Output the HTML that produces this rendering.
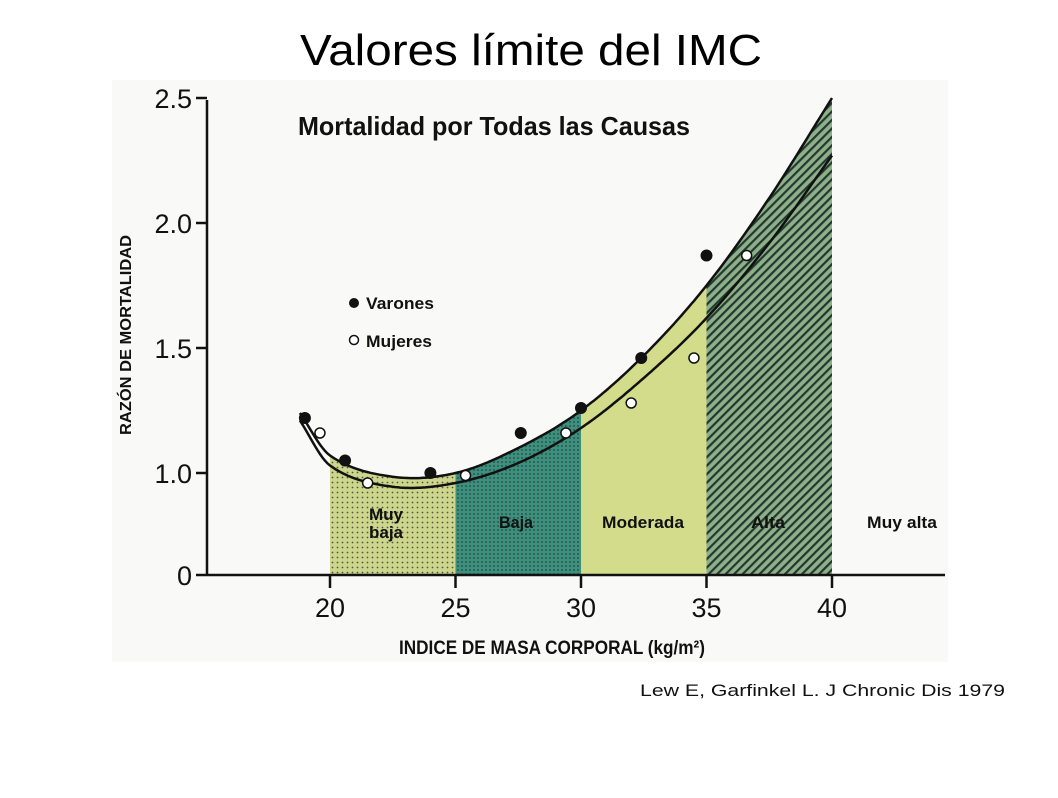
<!DOCTYPE html>
<html><head><meta charset="utf-8"><style>
body{margin:0;background:#fff;width:1058px;height:793px;overflow:hidden;font-family:"Liberation Sans",sans-serif}
</style></head><body>
<svg width="1058" height="793" xmlns="http://www.w3.org/2000/svg">
<defs>
<pattern id="dots1" width="5" height="5" patternUnits="userSpaceOnUse"><rect width="5" height="5" fill="#cdd68c"/><circle cx="2.5" cy="2.5" r="0.9" fill="#4a5a3a"/></pattern>
<pattern id="dots2" width="4" height="4" patternUnits="userSpaceOnUse"><rect width="4" height="4" fill="#3f8f7f"/><circle cx="2" cy="2" r="0.9" fill="#1d4a40"/></pattern>
<pattern id="hatch" width="6" height="6" patternUnits="userSpaceOnUse" patternTransform="rotate(45)"><rect width="6" height="6" fill="#8fae8a"/><rect width="2.2" height="6" fill="#1f3a2c"/></pattern>
</defs>
<rect x="112" y="80" width="836" height="582" fill="#f9f9f7"/>
<text x="531" y="65" text-anchor="middle" font-size="44" fill="#000" textLength="462" lengthAdjust="spacingAndGlyphs">Valores límite del IMC</text>
<text x="298" y="135" font-size="26" font-weight="bold" fill="#111" textLength="392" lengthAdjust="spacingAndGlyphs">Mortalidad por Todas las Causas</text>
<g id="zones"></g>
<g id="curves"></g>
<g id="axes" stroke="#111" stroke-width="2.5" fill="none"></g>
<g id="points"></g>
<g font-size="17" font-weight="bold" fill="#111">
<text x="386" y="520" text-anchor="middle" textLength="34" lengthAdjust="spacingAndGlyphs">Muy</text>
<text x="386" y="538" text-anchor="middle" textLength="34" lengthAdjust="spacingAndGlyphs">baja</text>
<text x="516" y="528" text-anchor="middle" textLength="34" lengthAdjust="spacingAndGlyphs">Baja</text>
<text x="643" y="528" text-anchor="middle" textLength="82" lengthAdjust="spacingAndGlyphs">Moderada</text>
<text x="768" y="528" text-anchor="middle" textLength="34" lengthAdjust="spacingAndGlyphs">Alta</text>
<text x="902" y="528" text-anchor="middle" textLength="70" lengthAdjust="spacingAndGlyphs">Muy alta</text>
</g>
<g font-size="17" font-weight="bold" fill="#111">
<circle cx="354" cy="303" r="5" fill="#111"/>
<text x="366" y="309" textLength="68" lengthAdjust="spacingAndGlyphs">Varones</text>
<circle cx="354" cy="340" r="4.5" fill="#fff" stroke="#111" stroke-width="1.5"/>
<text x="366" y="347" textLength="66" lengthAdjust="spacingAndGlyphs">Mujeres</text>
</g>
<text transform="translate(131,335) rotate(-90)" text-anchor="middle" font-size="16" font-weight="bold" fill="#111" textLength="200" lengthAdjust="spacingAndGlyphs">RAZÓN DE MORTALIDAD</text>
<text x="552" y="654" text-anchor="middle" font-size="19" font-weight="bold" fill="#111" textLength="306" lengthAdjust="spacingAndGlyphs">INDICE DE MASA CORPORAL (kg/m²)</text>
<text x="640" y="696" font-size="17" fill="#111" textLength="365" lengthAdjust="spacingAndGlyphs">Lew E, Garfinkel L. J Chronic Dis 1979</text>
</svg>
<script>
const xTicks=[20,25,30,35,40];
const yTicks=[1.0,1.5,2.0,2.5];
const yTickLabels=["1.0","1.5","2.0","2.5"];
const zoneBounds=[20,25,30,35,40];
const zoneNames=["muy-baja","baja","moderada","alta"];
const curveX=[18.8,20,22.5,25,27.5,30,32.5,35,37.5,40];
const menCurve=[1.24,1.07,0.985,1.0,1.1,1.25,1.47,1.75,2.1,2.5];
const womenCurve=[1.21,1.03,0.945,0.96,1.04,1.18,1.38,1.62,1.92,2.27];
const menX=[19,20.6,24,27.6,30,32.4,35];
const menY=[1.22,1.05,1.0,1.16,1.26,1.46,1.87];
const womenX=[19.6,21.5,25.4,29.4,32,34.5,36.6];
const womenY=[1.16,0.96,0.99,1.16,1.28,1.46,1.87];
const NS="http://www.w3.org/2000/svg";
const X=v=>330+(v-20)*25.1;
const Y=v=>473-(v-1)*250;
const BASE=575;
function mk(tag,attrs,parent){const e=document.createElementNS(NS,tag);for(const k in attrs)e.setAttribute(k,attrs[k]);parent.appendChild(e);return e;}
function interp(xs,ys,x){let i=0;while(i<xs.length-2&&x>xs[i+1])i++;
 const h=xs[i+1]-xs[i];
 const m=j=>{if(j<=0)return (ys[1]-ys[0])/(xs[1]-xs[0]);if(j>=ys.length-1)return (ys[j]-ys[j-1])/(xs[j]-xs[j-1]);return (ys[j+1]-ys[j-1])/(xs[j+1]-xs[j-1]);};
 const t=(x-xs[i])/h,t2=t*t,t3=t2*t;
 return (2*t3-3*t2+1)*ys[i]+(t3-2*t2+t)*h*m(i)+(-2*t3+3*t2)*ys[i+1]+(t3-t2)*h*m(i+1);}
const zones=document.getElementById('zones');
const fills=["url(#dots1)","url(#dots2)","#d3dc8b","url(#hatch)"];
for(let z=0;z<zoneBounds.length-1;z++){
 let d="M"+X(zoneBounds[z])+","+BASE;
 for(let x=zoneBounds[z];x<=zoneBounds[z+1]+1e-6;x+=0.1)d+=" L"+X(x).toFixed(1)+","+Y(interp(curveX,menCurve,x)).toFixed(1);
 d+=" L"+X(zoneBounds[z+1])+","+BASE+"Z";
 const p=mk('path',{d:d,fill:fills[z]},zones);
 
 
}
const curves=document.getElementById('curves');
[[menCurve,'men-curve'],[womenCurve,'women-curve']].forEach(([ys,n])=>{
 let d="";for(let x=curveX[0];x<=curveX[curveX.length-1]+1e-6;x+=0.1)d+=(d?" L":"M")+X(x).toFixed(1)+","+Y(interp(curveX,ys,x)).toFixed(1);
 const p=mk('path',{d:d,fill:'none',stroke:'#111','stroke-width':2.5},curves);
 
 
});
const axes=document.getElementById('axes');
const ya=mk('path',{d:"M207,100 V575"},axes);


const xa=mk('path',{d:"M207,575 H945"},axes);


const svg=document.querySelector('svg');
yTicks.forEach((v,i)=>{
 mk('path',{d:"M196,"+Y(v)+" H207"},axes);
 const t=mk('text',{x:192,y:Y(v)+10,'text-anchor':'end','font-size':27,fill:'#111',stroke:'none'},svg);
 t.textContent=yTickLabels[i];
 
 
});
mk('path',{d:"M196,575 H207"},axes);
const z0=mk('text',{x:192,y:585,'text-anchor':'end','font-size':27,fill:'#111'},svg);
z0.textContent="0";


xTicks.forEach(v=>{
 mk('path',{d:"M"+X(v)+",575 V588"},axes);
 const t=mk('text',{x:X(v),y:617,'text-anchor':'middle','font-size':27,fill:'#111'},svg);
 t.textContent=String(v);
 
 
});
const pts=document.getElementById('points');
menX.forEach((x,i)=>{const c=mk('circle',{cx:X(x),cy:Y(menY[i]),r:6,fill:'#111'},pts);
 
 });
womenX.forEach((x,i)=>{const c=mk('circle',{cx:X(x),cy:Y(womenY[i]),r:5,fill:'#fff',stroke:'#111','stroke-width':1.5},pts);
 
 });
</script>
</body></html>
